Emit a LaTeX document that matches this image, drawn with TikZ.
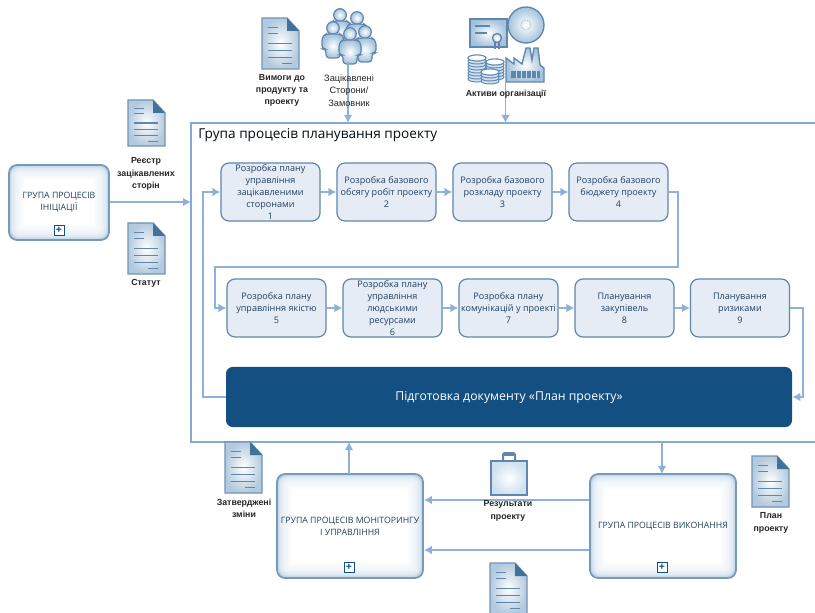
\documentclass[tikz,border=0pt]{standalone}
\usepackage{fontspec}
\setmainfont{Open Sans}
\newfontfamily\lblfont{Liberation Sans}
\usetikzlibrary{arrows.meta}
\definecolor{txt}{HTML}{22405F}
\definecolor{edge}{HTML}{5F87AE}
\definecolor{conn}{HTML}{8FB0D8}
\definecolor{pale}{HTML}{E5ECF6}
\definecolor{navy}{HTML}{134F80}
\definecolor{glowb}{HTML}{CFE0EE}
\definecolor{glowc}{HTML}{A3C2DB}
\tikzset{
  x=0.75pt,y=-0.75pt,
  proc/.style={draw=edge,line width=0.9pt,fill=pale,rounded corners=6pt,minimum width=74.25pt,minimum height=43.5pt,inner sep=0pt,align=center,text=txt,font=\fontsize{6.8}{9}\selectfont},
  glowbox/.style={draw=edge!85,line width=1.3pt,fill=white,rounded corners=6pt,inner sep=0pt,align=center,text=txt,font=\fontsize{6.55}{9}\selectfont,
    path picture={
      \foreach \w/\p in {22/6,19/9,16/13,13/18,10/25,7/35,4/50,2/70}{
        \draw[line width=\w pt,glowc!\p!white,rounded corners=8pt] (path picture bounding box.south west) rectangle (path picture bounding box.north east);}
    }},
  plusbox/.style={draw=navy,line width=0.6pt,fill=white,minimum size=7.5pt,inner sep=0pt,text=navy,font=\fontsize{8}{8}\selectfont\bfseries},
  lbl/.style={align=center,inner sep=0pt,text=black!85,font=\lblfont\fontsize{6.6}{9.2}\selectfont\bfseries},
  link/.style={draw=conn,line width=1.2pt,-{Latex[length=6pt,width=6.5pt]}},
  pics/docicon/.style={code={
    \shade[inner color=white,outer color=glowb!75!edge] (0,0) -- (25,0) -- (37,13) -- (37,#1) -- (0,#1) -- cycle;
    \draw[edge!90,line width=1pt] (0,0) -- (25,0) -- (37,13) -- (37,#1) -- (0,#1) -- cycle;
    \fill[navy!80] (25,0) -- (37,13) -- (25,13) -- cycle;
    \foreach \a/\b/\yy in {6/16/.18,6/16/.3,6/30/.5,6/30/.64,6/30/.78,20/30/.9}{\draw[edge,line width=0.8pt] (\a,{\yy*#1}) -- (\b,{\yy*#1});}
  }},
  pics/person/.style={code={
    \shade[inner color=white,outer color=glowc,draw=edge,line width=0.9pt] (0,-9) circle (6.3);
    \shade[inner color=white,outer color=glowc,draw=edge,line width=0.9pt,rounded corners=2.5pt]
      (-11,12) -- (-11,0) -- (-7,-3) -- (7,-3) -- (11,0) -- (11,12) -- (7,12) -- (7,21) -- (-7,21) -- (-7,12) -- cycle;
  }},
  pics/coins/.style={code={
    \foreach \k in {0,...,#1}{\fill[glowb,draw=edge,line width=0.7pt] (0,{(#1-\k)*3}) ellipse (9 and 3);}
    \fill[white,draw=edge,line width=0.7pt] (0,0) ellipse (9 and 3);
  }},
}
\begin{document}
\begin{tikzpicture}
\useasboundingbox (0,0) rectangle (815,613);
\clip (0,0) rectangle (815,613);
\fill[white] (0,0) rectangle (815,613);

% frame
\coordinate (fnw) at (191,123);
\coordinate (fne) at (816,123);
\coordinate (fsw) at (191,442);
\coordinate (fse) at (816,442);
\draw[draw=conn!85!edge,line width=1.2pt] (fne) -- (fnw) -- (fsw) -- (fse);
\node[anchor=west,inner sep=0pt,text=black!85!navy,font=\fontsize{10.2}{12}\selectfont] (title) at (198,135) {Група процесів планування проекту};

% processes, row 1
\node[proc] (p1) at (270.5,192) {Розробка плану\\управління\\зацікавленими\\сторонами\\1};
\node[proc] (p2) at (386.5,192) {Розробка базового\\обсягу робіт проекту\\2};
\node[proc] (p3) at (502.5,192) {Розробка базового\\розкладу проекту\\3};
\node[proc] (p4) at (618.5,192) {Розробка базового\\бюджету проекту\\4};
% row 2
\node[proc] (p5) at (276.5,308) {Розробка плану\\управління якістю\\5};
\node[proc] (p6) at (392.5,308) {Розробка плану\\управління\\людськими\\ресурсами\\6};
\node[proc] (p7) at (508.5,308) {Розробка плану\\комунікацій у проекті\\7};
\node[proc] (p8) at (624.5,308) {Планування\\закупівель\\8};
\node[proc] (p9) at (740,308) {Планування\\ризиками\\9};
\node[fill=navy,rounded corners=5pt,minimum width=424.5pt,minimum height=45pt,inner sep=0pt,text=white,font=\fontsize{9.2}{11}\selectfont] (plan) at (509,397) {Підготовка документу «План проекту»};

% big groups
\node[glowbox,minimum width=75pt,minimum height=56.25pt] (init) at (59,202.5) {ГРУПА ПРОЦЕСІВ\\ІНІЦІАЦІЇ};
\node[plusbox] (initp) at (59,230) {+};
\node[glowbox,minimum width=109.5pt,minimum height=78pt] (mon) at (350,526) {ГРУПА ПРОЦЕСІВ МОНІТОРИНГУ\\І УПРАВЛІННЯ};
\node[plusbox] (monp) at (349,567) {+};
\node[glowbox,minimum width=109.5pt,minimum height=78pt] (exec) at (663,526) {ГРУПА ПРОЦЕСІВ ВИКОНАННЯ};
\node[plusbox] (execp) at (662,567) {+};

% connectors
\foreach \a/\b in {p1/p2,p2/p3,p3/p4,p5/p6,p6/p7,p7/p8,p8/p9}{\draw[link] (\a) -- (\b);}
\draw[link] (init.east |- 0,202) -- (191,202);
\draw[link] (plan.west) -| (203,192) -- (p1.west);
\draw[link] (p4.east) -| (678,267) -| (215,308) -- (p5.west);
\draw[link] (p9.east) -| (803,397) -- (plan.east);
\draw[link] (349,474) -- (349,442);
\draw[link] (662,442) -- (662,474);
\draw[link] (exec.west |- 0,500) -- (mon.east |- 0,500);
\draw[link] (exec.west |- 0,550) -- (mon.east |- 0,550);

% documents
\pic at (128,100) {docicon=46};
\pic at (128,223) {docicon=51};
\pic at (262,18) {docicon=51};
\pic at (225,442) {docicon=51};
\pic at (752,456) {docicon=51};
\pic at (490,563) {docicon=51};

% people
\pic at (340,24) {person};
\pic at (357,27) {person};
\pic at (333,37) {person};
\pic at (365,41) {person};
\pic at (350,43) {person};

% assets
\shade[inner color=white,outer color=glowc,draw=edge,line width=1pt] (470,19) rectangle (507,47);
\draw[edge,line width=0.8pt] (475,26) -- (490,26) (475,33) -- (487,33);
\draw[edge,line width=1pt] (495,42) -- (495,49) (499,42) -- (499,49);
\shade[inner color=white,outer color=glowb,draw=edge,line width=1pt] (497,38) circle (4.5);
\shade[inner color=white,outer color=glowc,draw=edge,line width=1pt] (526,25) circle (18);
\draw[edge!50,densely dotted,line width=0.8pt] (526,25) circle (5);
\pic at (477,58) {coins=7};
\pic at (495,62) {coins=5};
\pic at (490,72) {coins=3};
\shade[inner color=white,outer color=glowc,draw=edge,line width=1pt]
  (506,82) -- (506,58) -- (514,64) -- (514,58) -- (522,64) -- (526,48) -- (530,48) -- (532,60) -- (534,48) -- (538,48) -- (540,65) -- (544,68) -- (544,82) -- cycle;
\fill[edge] (511,71) rectangle (540,78);
\draw[glowb,line width=0.5pt] (516,71) -- (516,78) (521,71) -- (521,78) (526,71) -- (526,78) (531,71) -- (531,78) (536,71) -- (536,78);

% bag
\draw[edge,line width=1.5pt,rounded corners=1.5pt] (503,462) -- (503,453) -- (515,453) -- (515,462);
\shade[inner color=white,outer color=glowb,draw=edge,line width=1pt] (491,461) rectangle (527,495);
\draw[edge,line width=1pt] (503,455) rectangle (515,461);

% top inputs
\coordinate (st) at (348,62);
\coordinate (as) at (505.5,57);
\draw[link] (st) -- (st |- fnw);
\draw[link] (as) -- (as |- fnw);

% labels
\node[lbl] (l1) at (282,90.5) {Вимоги до\\продукту та\\проекту};
\node[lbl,font=\lblfont\fontsize{6.9}{9.2}\selectfont] (l2) at (349,90.5) {Зацікавлені\\Сторони/\\Замовник};
\node[lbl] (l3) at (506,94) {Активи організації};
\node[lbl] (l4) at (146,174) {Реєстр\\зацікавлених\\сторін};
\node[lbl] (l5) at (146,283) {Статут};
\node[lbl] (l6) at (244,508) {Затверджені\\зміни};
\node[lbl] (l7) at (771,523) {План\\проекту};
\node[lbl] (l8) at (508,511) {Результати\\проекту};
\end{tikzpicture}
\end{document}
